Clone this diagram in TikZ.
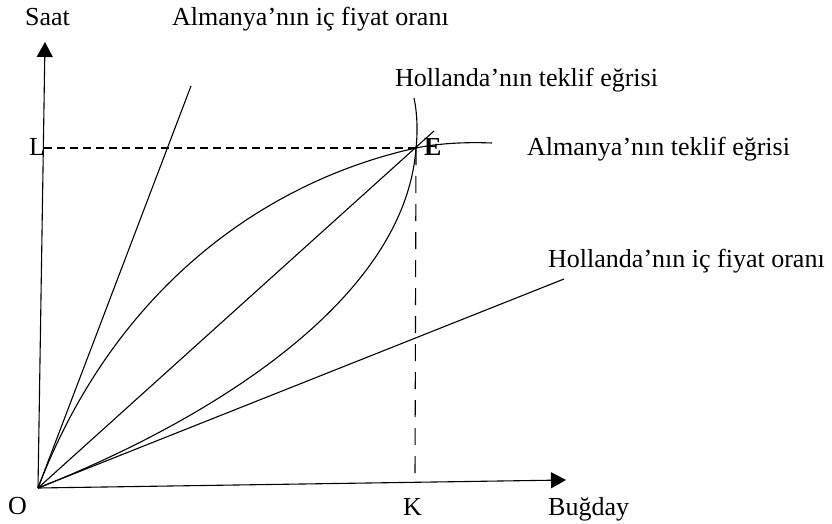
\documentclass[tikz,border=0pt]{standalone}
\usepackage{fontspec}
\setmainfont{Liberation Serif}
\usetikzlibrary{arrows.meta}
\begin{document}
\begin{tikzpicture}[x=1pt,y=-1pt,
  lab/.style={anchor=base west,inner sep=0pt,font=\fontsize{26}{30}\selectfont},
  ln/.style={line width=1.1pt,black},
  axis/.style={line width=1.1pt,-{Triangle[length=15pt,width=16pt]}},
  dsh/.style={line width=1.1pt,dash pattern=on 8pt off 5pt},
  vdsh/.style={line width=1.1pt,dash pattern=on 17pt off 11pt}]
\useasboundingbox (0,0) rectangle (832,524);
% points
\coordinate (O) at (38,488);
\coordinate (E) at (416,148);
\coordinate (Ytop) at (45,42);
\coordinate (Xtip) at (566,480);
\coordinate (Lp) at (44,148);
\coordinate (Kp) at (415,479);
\coordinate (Ga) at (191,86);
\coordinate (Ha) at (564,279);
\coordinate (Dend) at (434,131);
\coordinate (Aend) at (492,143);
\coordinate (Hend) at (414,98);
% axes
\draw[axis] (O) -- (Ytop);
\draw[axis] (O) -- (Xtip);
% dashed
\draw[dsh] (Lp) -- (E);
\draw[vdsh] (E) -- (Kp);
% price lines
\draw[ln] (O) -- (Ga);
\draw[ln] (O) -- (Ha);
\draw[ln] (O) -- (Dend);
% offer curves
\draw[ln] (O) .. controls (115,287) and (266,181) .. (E)
          .. controls (440,143) and (468,142) .. (Aend);
\draw[ln] (O) .. controls (210,420) and (405,300) .. (E)
          .. controls (418,130) and (417,112) .. (Hend);
% labels
\node[lab] (saat) at (25,26) {Saat};
\node[lab] (gpr) at (172,26) {Almanya’nın iç fiyat oranı};
\node[lab] (hof) at (395,87) {Hollanda’nın teklif eğrisi};
\node[lab] (gof) at (527,155) {Almanya’nın teklif eğrisi};
\node[lab] (hpr) at (548,267) {Hollanda’nın iç fiyat oranı};
\node[lab] (L) at (29,155) {L};
\node[lab,font=\fontsize{26}{30}\selectfont\bfseries] (Elab) at (424,155) {E};
\node[lab] (Olab) at (8,514) {O};
\node[lab] (K) at (403,515) {K};
\node[lab] (bug) at (548,515) {Buğday};
\end{tikzpicture}
\end{document}
